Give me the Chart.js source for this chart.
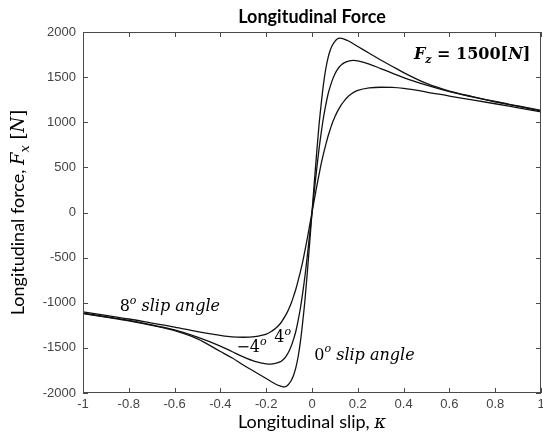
<!DOCTYPE html>
<html>
<head>
<meta charset="utf-8">
<script src="https://cdn.jsdelivr.net/npm/chart.js@4.4.1/dist/chart.umd.min.js"></script>
<style>
  body { margin: 0; background: #fff; }
  #wrap { width: 543px; height: 443px; }
</style>
</head>
<body>
<div id="wrap"><canvas id="myChart" width="543" height="443"></canvas></div>
<script>
// slip values (x) shared by the three curves
const kappa = [-1, -0.9, -0.8, -0.7, -0.6, -0.5, -0.4, -0.35, -0.3, -0.25, -0.2, -0.18, -0.16, -0.14,
  -0.13, -0.12, -0.11, -0.1, -0.09, -0.08, -0.07, -0.06, -0.05, -0.04, -0.03, -0.02, -0.01, 0,
  0.01, 0.02, 0.03, 0.04, 0.05, 0.06, 0.07, 0.08, 0.09, 0.1, 0.11, 0.12, 0.13,
  0.14, 0.16, 0.18, 0.2, 0.25, 0.3, 0.35, 0.4, 0.5, 0.6, 0.7, 0.8, 0.9, 1];

// longitudinal force, one list per slip angle
const fx0 = [-1120, -1160, -1200, -1250, -1310, -1400, -1540, -1610, -1690, -1765, -1840, -1870, -1900, -1922,
  -1930, -1932, -1922, -1897, -1858, -1800, -1714, -1590, -1420, -1200, -950, -650, -330, 0,
  330, 650, 950, 1200, 1420, 1590, 1714, 1800, 1858, 1897, 1922, 1932, 1930,
  1922, 1900, 1870, 1840, 1765, 1690, 1620, 1550, 1430, 1345, 1285, 1230, 1180, 1130];
const fx4 = [-1115, -1155, -1195, -1245, -1300, -1380, -1480, -1540, -1600, -1650, -1678, -1680, -1672, -1655,
  -1640, -1615, -1580, -1535, -1475, -1400, -1310, -1190, -1050, -880, -690, -470, -240, 0,
  240, 470, 690, 880, 1050, 1190, 1310, 1400, 1475, 1535, 1580, 1615, 1640,
  1658, 1678, 1685, 1680, 1645, 1595, 1545, 1495, 1412, 1340, 1280, 1226, 1176, 1126];
const fx8 = [-1100, -1140, -1180, -1225, -1270, -1320, -1362, -1378, -1382, -1375, -1348, -1322, -1286, -1235,
  -1200, -1160, -1115, -1060, -1000, -925, -845, -750, -650, -540, -410, -280, -140, 0,
  140, 280, 410, 540, 650, 750, 845, 925, 1000, 1060, 1115, 1160, 1200,
  1235, 1290, 1328, 1352, 1380, 1388, 1386, 1375, 1335, 1290, 1248, 1205, 1160, 1115];

const xTicks = [-1, -0.8, -0.6, -0.4, -0.2, 0, 0.2, 0.4, 0.6, 0.8, 1];
const yTicks = [-2000, -1500, -1000, -500, 0, 500, 1000, 1500, 2000];

// text labels placed in data units [kappa, force]
const notes = [
  { at: [-0.84, -1095], runs: [["8", "n"], ["o", "sup"], [" slip angle", "i"]] },
  { at: [-0.33, -1550], runs: [["\u22124", "n"], ["o", "sup"]] },
  { at: [-0.165, -1440], runs: [["4", "n"], ["o", "sup"]] },
  { at: [0.01, -1630], runs: [["0", "n"], ["o", "sup"], [" slip angle", "i"]] },
];

const serif = '"DejaVu Serif", serif';
const sans = 'Lato, "Liberation Sans", sans-serif';

function pts(ys) {
  return kappa.map((k, i) => ({ x: k, y: ys[i] }));
}

// draws a list of text pieces with their own fonts, returns width
function drawRuns(ctx, x, y, runs, size, measureOnly) {
  let w = 0;
  runs.forEach(([t, kind]) => {
    let font, dy = 0;
    if (kind == "n") font = size + "px " + serif;
    if (kind == "i") font = "italic " + size + "px " + serif;
    if (kind == "sup") { font = "italic " + Math.round(size * 0.7) + "px " + serif; dy = -size * 0.45; }
    if (kind == "sub") { font = "italic " + Math.round(size * 0.7) + "px " + serif; dy = size * 0.25; }
    if (kind == "bi") font = "italic bold " + size + "px " + serif;
    if (kind == "b") font = "bold " + size + "px " + serif;
    if (kind == "bsub") { font = "italic bold " + Math.round(size * 0.7) + "px " + serif; dy = size * 0.25; }
    if (kind == "sans") font = size + "px " + sans;
    ctx.font = font;
    if (!measureOnly) ctx.fillText(t, x + w, y + dy);
    w += ctx.measureText(t).width;
  });
  return w;
}

const decor = {
  id: "decor",
  afterDraw(chart) {
    const ctx = chart.ctx;
    const a = chart.chartArea;
    const xs = chart.scales.x, ys = chart.scales.y;
    ctx.save();

    // box and inward ticks
    ctx.strokeStyle = "#4a4a4a";
    ctx.lineWidth = 1;
    ctx.strokeRect(a.left + 0.5, a.top + 0.5, a.right - a.left - 1, a.bottom - a.top - 1);
    ctx.beginPath();
    xTicks.forEach(v => {
      const px = Math.round(xs.getPixelForValue(v)) + 0.5;
      ctx.moveTo(px, a.bottom); ctx.lineTo(px, a.bottom - 5);
      ctx.moveTo(px, a.top); ctx.lineTo(px, a.top + 5);
    });
    yTicks.forEach(v => {
      const py = Math.round(ys.getPixelForValue(v)) + 0.5;
      ctx.moveTo(a.left, py); ctx.lineTo(a.left + 5, py);
      ctx.moveTo(a.right, py); ctx.lineTo(a.right - 5, py);
    });
    ctx.stroke();

    ctx.fillStyle = "#000";
    ctx.textBaseline = "alphabetic";

    // title
    ctx.font = "bold 18px " + sans;
    ctx.textAlign = "center";
    const cx = (a.left + a.right) / 2;
    ctx.fillText("Longitudinal Force", cx, 23);
    ctx.textAlign = "left";

    // x axis title
    let runs = [["Longitudinal slip, ", "sans"], ["\u03ba", "i"]];
    let w = drawRuns(ctx, 0, 0, runs, 18, true);
    drawRuns(ctx, cx - w / 2, 428, runs, 18);

    // y axis title
    runs = [["Longitudinal force, ", "sans"], ["F", "i"], ["x", "sub"], [" [", "n"], ["N", "i"], ["]", "n"]];
    w = drawRuns(ctx, 0, 0, runs, 18, true);
    ctx.save();
    ctx.translate(24, (a.top + a.bottom) / 2);
    ctx.rotate(-Math.PI / 2);
    drawRuns(ctx, -w / 2, 0, runs, 18);
    ctx.restore();

    // curve labels
    notes.forEach(n => {
      drawRuns(ctx, xs.getPixelForValue(n.at[0]), ys.getPixelForValue(n.at[1]), n.runs, 16);
    });

    // load label
    runs = [["F", "bi"], ["z", "bsub"], [" = 1500[", "b"], ["N", "bi"], ["]", "b"]];
    drawRuns(ctx, xs.getPixelForValue(0.445), ys.getPixelForValue(1700), runs, 16);

    ctx.restore();
  },
};

const lineStyle = {
  showLine: true,
  borderColor: "#111",
  borderWidth: 1.3,
  pointRadius: 0,
  fill: false,
  cubicInterpolationMode: "monotone",
};

let ctx = document.getElementById("myChart").getContext("2d");
let myChart = new Chart(ctx, {
  type: "scatter",
  data: {
    datasets: [
      { label: "0 deg", data: pts(fx0), ...lineStyle },
      { label: "4 deg", data: pts(fx4), ...lineStyle },
      { label: "8 deg", data: pts(fx8), ...lineStyle },
    ],
  },
  options: {
    responsive: false,
    animation: false,
    devicePixelRatio: 1,
    layout: { padding: { left: 0, right: 2, top: 32, bottom: 0 } },
    plugins: { legend: { display: false }, tooltip: { enabled: false } },
    scales: {
      x: {
        type: "linear",
        min: -1,
        max: 1,
        afterBuildTicks: s => { s.ticks = xTicks.map(v => ({ value: v })); },
        afterFit: s => { s.height = 50; s.paddingLeft = 0; s.paddingRight = 0; },
        ticks: {
          callback: v => String(v),
          color: "#444",
          font: { family: "Liberation Sans", size: 13 },
          padding: 4,
          maxRotation: 0,
        },
        grid: { display: false, drawTicks: false },
        border: { display: false },
      },
      y: {
        type: "linear",
        min: -2000,
        max: 2000,
        afterBuildTicks: s => { s.ticks = yTicks.map(v => ({ value: v })); },
        afterFit: s => { s.width = 83; s.paddingTop = 0; s.paddingBottom = 0; },
        ticks: {
          callback: v => String(v),
          color: "#444",
          font: { family: "Liberation Sans", size: 13 },
          padding: 7,
        },
        grid: { display: false, drawTicks: false },
        border: { display: false },
      },
    },
  },
  plugins: [decor],
});
</script>
</body>
</html>
